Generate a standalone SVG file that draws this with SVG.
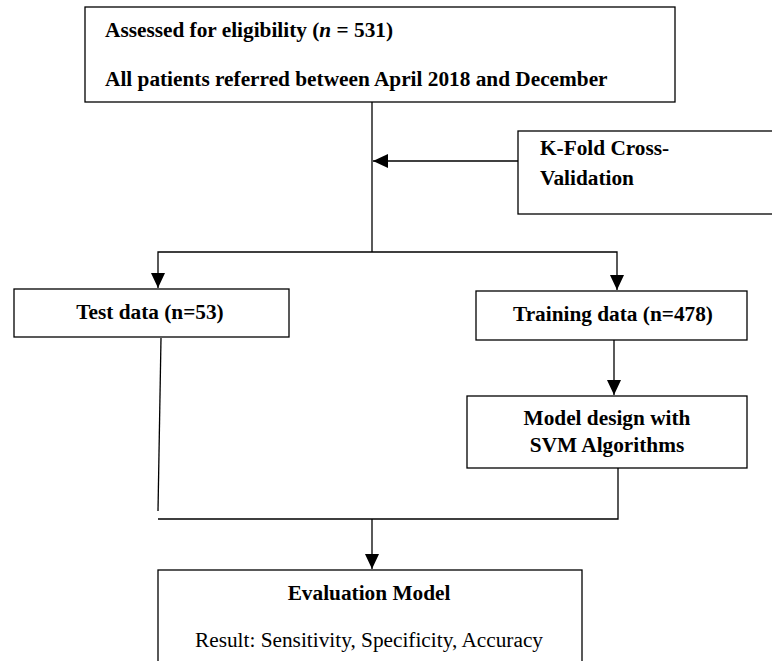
<svg xmlns="http://www.w3.org/2000/svg" width="772" height="661" viewBox="0 0 772 661">
<defs>
<style>
.box{fill:#fff;stroke:#000;stroke-width:1.3}
.ln{fill:none;stroke:#000;stroke-width:1.3}
.b{font-family:"Liberation Serif","Times New Roman",serif;font-weight:bold;font-size:21.3px;fill:#000}
.r{font-family:"Liberation Serif","Times New Roman",serif;font-size:21.3px;fill:#000}
</style>
<marker id="ah" markerUnits="userSpaceOnUse" markerWidth="16" markerHeight="14" refX="15" refY="7" orient="auto">
<path d="M0,0 L15,7 L0,14 Z" fill="#000"/>
</marker>
</defs>
<rect width="772" height="661" fill="#fff"/>
<g id="connectors">
<line class="ln" x1="372" y1="102" x2="372" y2="252"/>
<line class="ln" x1="518" y1="161" x2="373" y2="161" marker-end="url(#ah)"/>
<polyline class="ln" points="372,252 158,252 158,288" marker-end="url(#ah)"/>
<polyline class="ln" points="372,252 617,252 617,290" marker-end="url(#ah)"/>
<line class="ln" x1="614" y1="340" x2="614" y2="395" marker-end="url(#ah)"/>
<line class="ln" x1="161" y1="338" x2="158" y2="511"/>
<polyline class="ln" points="158,519 618,519 618,467"/>
<line class="ln" x1="372" y1="519" x2="372" y2="569" marker-end="url(#ah)"/>
</g>
<g id="n_assessed">
<rect class="box" x="85" y="7" width="590" height="95"/>
<text class="b" x="105" y="37">Assessed for eligibility (<tspan font-style="italic">n</tspan> = 531)</text>
<text class="b" x="105" y="86">All patients referred between April 2018 and December</text>
</g>
<g id="n_kfold">
<rect class="box" x="518" y="131" width="270" height="83"/>
<text class="b" x="540" y="155">K-Fold Cross-</text>
<text class="b" x="540" y="185">Validation</text>
</g>
<g id="n_test">
<rect class="box" x="14" y="289" width="275" height="48"/>
<text class="b" x="150" y="319" text-anchor="middle">Test data (n=53)</text>
</g>
<g id="n_training">
<rect class="box" x="476" y="291" width="271" height="49"/>
<text class="b" x="613" y="321" text-anchor="middle">Training data (n=478)</text>
</g>
<g id="n_model">
<rect class="box" x="467" y="396" width="280" height="72"/>
<text class="b" x="607" y="425" text-anchor="middle">Model design with</text>
<text class="b" x="607" y="452" text-anchor="middle">SVM Algorithms</text>
</g>
<g id="n_eval">
<rect class="box" x="158" y="570" width="424" height="110"/>
<text class="b" x="369" y="600" text-anchor="middle">Evaluation Model</text>
<text class="r" x="369" y="647" text-anchor="middle">Result: Sensitivity, Specificity, Accuracy</text>
</g>
</svg>
